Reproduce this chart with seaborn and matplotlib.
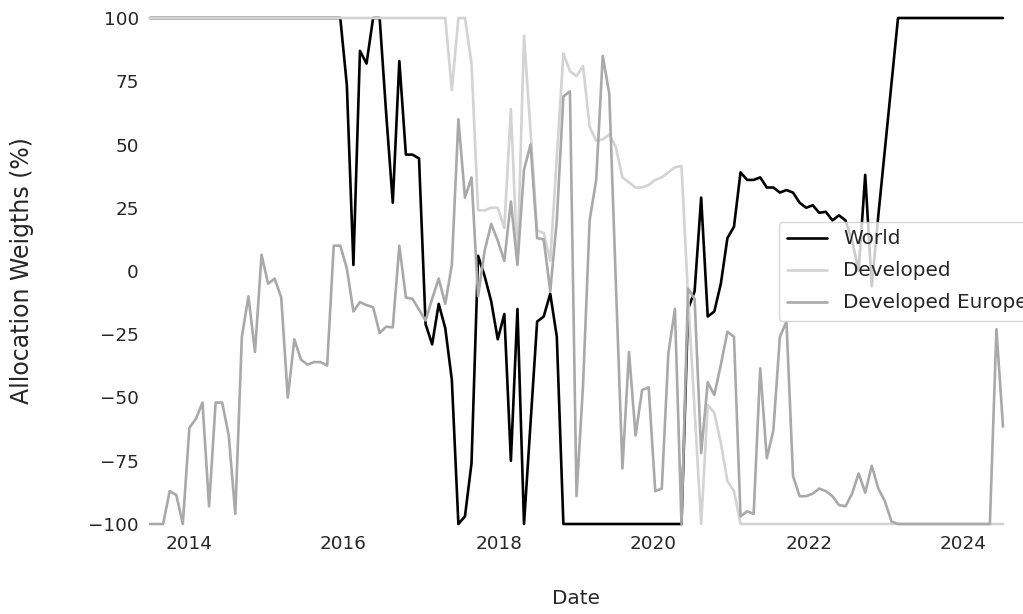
import numpy as np
import pandas as pd
import matplotlib
matplotlib.use("Agg")
import matplotlib.pyplot as plt
import matplotlib.dates as mdates
import seaborn as sns

dates = pd.date_range("2013-07-03", "2024-07-05", periods=131)

world = ([100] * 30 +
         [73.5, 2.4, 87, 82, 100, 100, 62, 27, 83, 46, 46, 44.5,
          -21, -29, -13, -22.6, -43, -100, -97, -76, 6, -2, -12, -27,
          -17, -75, -15, -100, -60, -20, -18, -9, -26] +
         [-100] * 19 +
         [-15, -8, 29, -18, -16, -5, 13, 17.5, 39, 36, 36, 37, 33, 33,
          31, 32, 31, 27, 25, 26, 23, 23.4, 20, 22, 20, 12, 0, 38, -6,
          22, 48, 74] +
         [100] * 17)

developed = ([100] * 46 +
             [71.5, 100, 100, 82, 24, 24, 25, 25, 17, 64, 3, 93, 55, 16,
              15, 4, 45, 86, 79, 77, 81, 57, 51.5, 52, 54, 49, 37, 35,
              33, 33, 34, 36, 37, 39, 41, 41.5, -10, -55, -100, -53, -56,
              -68, -83, -87] +
             [-100] * 41)

developed_europe = ([-100, -100, -100, -87, -88.5, -100, -62, -58.4, -52, -93,
                     -52, -52, -65, -96, -26, -10, -32, 6.4, -5, -3, -10.5,
                     -50, -27, -35, -37, -36, -36, -37.4, 10, 10, 1, -16,
                     -12.3, -13.5, -14.3, -24.5, -22, -22.3, 10, -10.5, -11,
                     -15.3, -19.6, -11, -3, -13, 2.4, 60, 29, 37, -10, 8,
                     18.6, 12, 4, 27.5, 2.4, 40, 50, 13, 12.5, -8, 20, 69,
                     71, -89, -45, 20, 36, 85, 70, -5, -78, -32, -65, -47,
                     -46, -87, -86, -32.5, -15, -100, -7, -11, -72, -44, -49,
                     -37, -24, -26, -97, -95, -96, -38.5, -74, -63, -26, -20,
                     -81, -89, -89, -88, -86, -87, -89, -92.5, -93, -88, -80,
                     -87.6, -77, -86, -91, -99] +
                    [-100] * 15 +
                    [-23, -61.5])

series_names = ["World", "Developed", "Developed Europe"]
colors = ["black", "lightgray", "darkgray"]

df = pd.DataFrame({"Date": dates,
                   "World": world,
                   "Developed": developed,
                   "Developed Europe": developed_europe})
long = df.melt(id_vars="Date", var_name="Region", value_name="Weight")

sns.set_style("white")
plt.rcParams["font.family"] = ["DejaVu Sans"]

fig = plt.figure(figsize=(10.23, 6.14), dpi=100)
ax = fig.add_axes([150 / 1023, 1 - 524 / 614, 853 / 1023, 506 / 614])

sns.lineplot(data=long, x="Date", y="Weight", hue="Region",
             hue_order=series_names, palette=colors, linewidth=1.9, ax=ax)
for ln in ax.get_lines():
    ln.set_clip_on(False)

ax.set_xlim(dates[0], dates[-1])
ax.set_ylim(-100, 100)
ax.set_yticks([-100, -75, -50, -25, 0, 25, 50, 75, 100])
ax.xaxis.set_major_locator(mdates.YearLocator(2))
ax.xaxis.set_major_formatter(mdates.DateFormatter("%Y"))
ax.tick_params(axis="both", labelsize=13.2, colors="0.15", length=0, pad=8)
ax.set_xlabel("Date", fontsize=14.4, color="0.15", labelpad=26)
ax.set_ylabel("Allocation Weigths (%)", fontsize=17, color="0.15",
              labelpad=39)
sns.despine(ax=ax, left=True, bottom=True)

ax.legend(loc="center right", bbox_to_anchor=(1.05, 0.5), fontsize=14.4,
          labelspacing=0.65, title=None)

fig.savefig("out.png", dpi=100)
